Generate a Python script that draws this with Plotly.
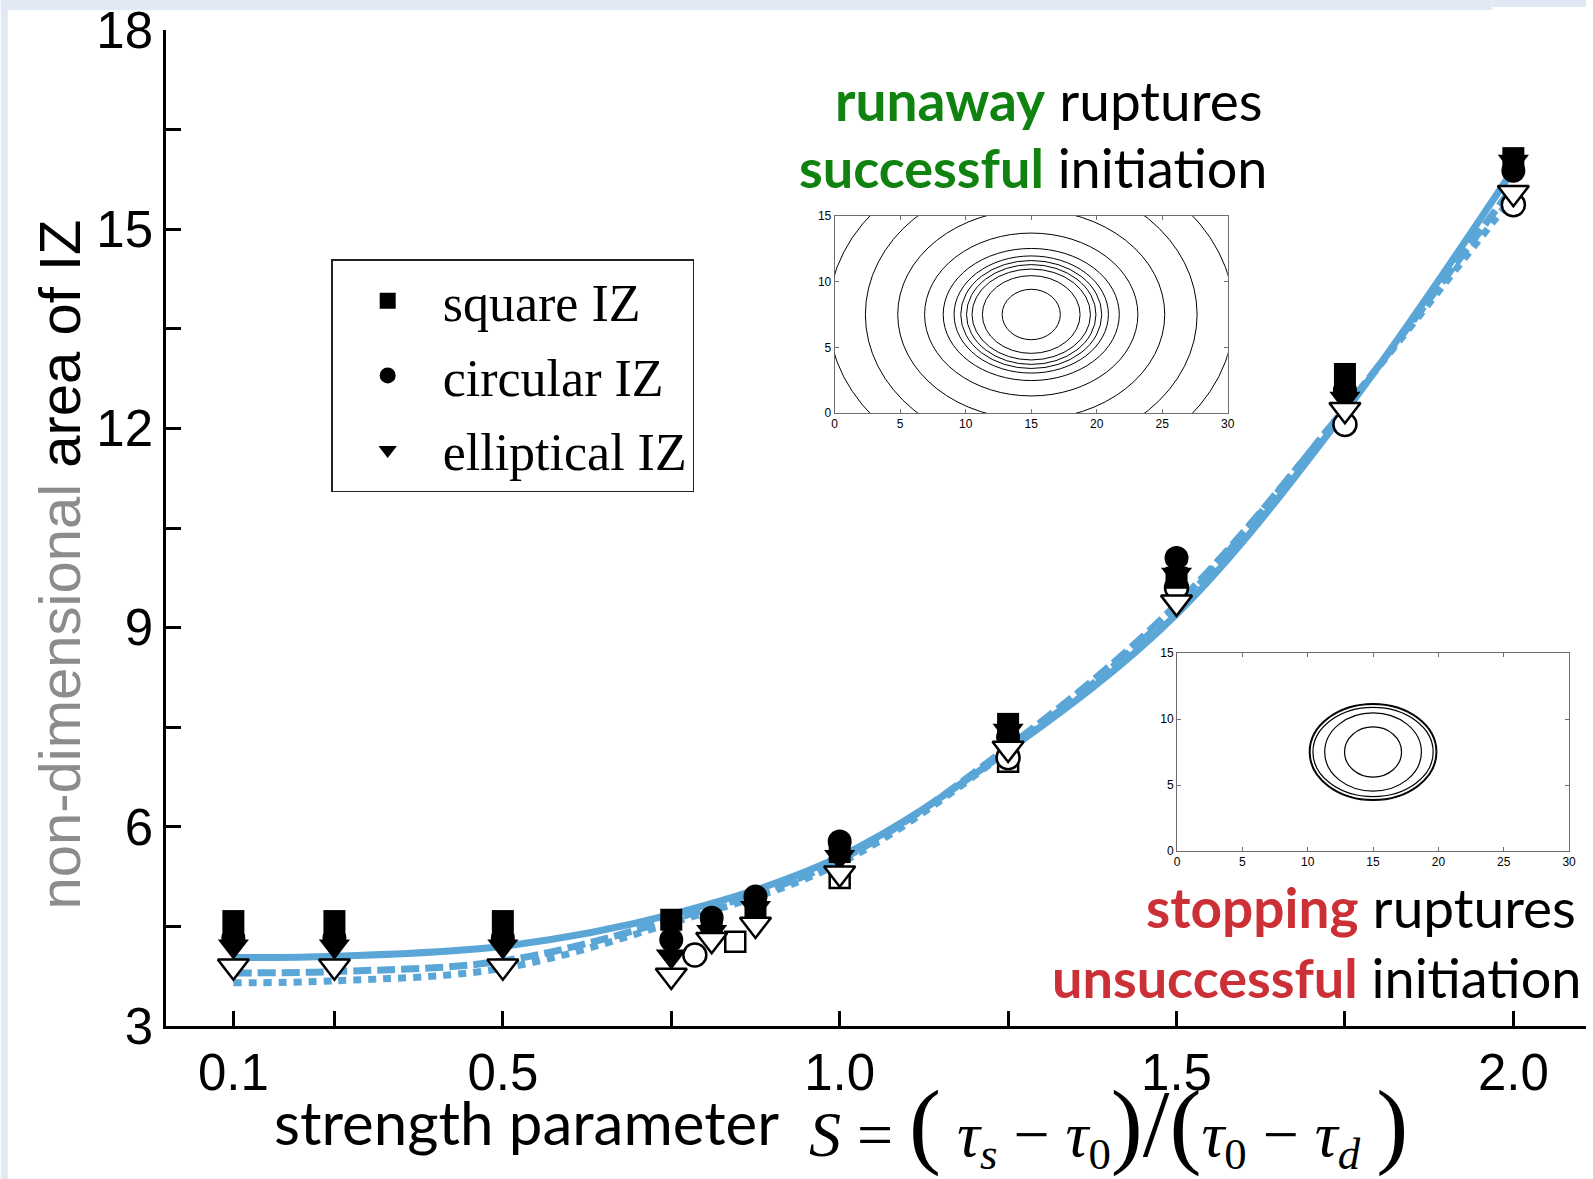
import plotly.graph_objects as go

# ---------------- canvas / plot-area geometry ----------------
W, H = 1593, 1179
ML, MR, MT, MB = 166, 0, 30, 153
PW = W - ML - MR
PH = H - MT - MB


def px(x):
    """pixel column -> paper x"""
    return (x - ML) / PW


def py(y):
    """pixel row -> paper y"""
    return (H - MB - y) / PH


# ---------------- data ----------------
# strength parameter S and non-dimensional IZ area
sq_x = [0.1, 0.25, 0.5, 0.75, 0.81, 0.875, 1.0, 1.25, 1.5, 1.75, 2.0]
sq_y = [4.58, 4.58, 4.58, 4.6, 4.46, 4.8, 5.62, 7.55, 9.75, 12.82, 16.07]

ci_x = [0.1, 0.25, 0.5, 0.75, 0.81, 0.875, 1.0, 1.25, 1.5, 1.75, 2.0]
ci_y = [4.33, 4.33, 4.33, 4.3, 4.63, 4.95, 5.78, 7.35, 10.05, 12.58, 15.88]

tr_x = [0.1, 0.25, 0.5, 0.75, 0.81, 0.875, 1.0, 1.25, 1.5, 1.75, 2.0]
tr_y = [4.2, 4.2, 4.2, 4.05, 4.42, 4.78, 5.55, 7.45, 9.8, 12.45, 16.02]

# second set of runs (open symbols)
osq_x = [0.845, 1.0, 1.25]
osq_y = [4.27, 5.23, 6.98]

oci_x = [0.785, 1.25, 1.5, 1.75, 2.0]
oci_y = [4.07, 7.04, 9.6, 12.06, 15.37]

otr_x = [0.1, 0.25, 0.5, 0.75, 0.81, 0.875, 1.0, 1.25, 1.5, 1.75, 2.0]
otr_y = [3.9, 3.9, 3.9, 3.76, 4.3, 4.53, 5.3, 7.18, 9.38, 12.28, 15.55]

# fitted curves
fit_x = [0.1, 0.25, 0.5, 0.75, 1.0, 1.25, 1.5, 1.75, 2.0]
fit_solid = [4.03, 4.05, 4.2, 4.68, 5.55, 7.15, 9.2, 12.25, 15.9]
fit_dash = [3.8, 3.82, 3.98, 4.6, 5.5, 7.2, 9.35, 12.3, 15.65]
fit_dot = [3.65, 3.68, 3.87, 4.55, 5.45, 7.15, 9.3, 12.3, 15.5]

# axis ticks
x_ticks = [0.1, 0.25, 0.5, 0.75, 1.0, 1.25, 1.5, 1.75, 2.0]
x_tick_text = ["0.1", "", "0.5", "", "1.0", "", "1.5", "", "2.0"]
y_ticks = [3, 6, 9, 12, 15, 18]

# slip-contour insets: semi-axes (along-strike a, down-dip b) of each contour
run_a = [2.22, 3.73, 4.52, 4.94, 5.38, 5.89, 6.72, 8.14, 10.19, 12.66, 15.49]
run_b = [1.92, 2.96, 3.46, 3.8, 4.11, 4.46, 5.03, 6.2, 7.99, 10.3, 12.4]
stop_a = [2.18, 3.7, 4.6, 4.82, 4.88]
stop_b = [1.9, 2.96, 3.38, 3.61, 3.66]
centre_x, centre_y = 15, 7.5
inset_x_ticks = [0, 5, 10, 15, 20, 25, 30]
inset_y_ticks = [0, 5, 10, 15]

BLUE = "#5aa6d6"
GREEN = "#0f820f"
RED = "#cc3037"
SANS = "Liberation Sans, Arial, sans-serif"
SERIF = "Liberation Serif, Times New Roman, serif"
HUMAN = "Lato, Open Sans, sans-serif"

fig = go.Figure()

# fitted curves
for yv, dash in [(fit_solid, "solid"), (fit_dash, "18px,6px"), (fit_dot, "8px,7px")]:
    fig.add_trace(go.Scatter(
        x=fit_x, y=yv, mode="lines", line=dict(color=BLUE, width=7, dash=dash, shape="spline"),
        showlegend=False, hoverinfo="skip"))

open_style = dict(color="white", line=dict(color="black", width=2.5))

fig.add_trace(go.Scatter(x=osq_x, y=osq_y, mode="markers", showlegend=False,
                         marker=dict(symbol="square", size=20, **open_style)))
fig.add_trace(go.Scatter(x=oci_x, y=oci_y, mode="markers", showlegend=False,
                         marker=dict(symbol="circle", size=23, **open_style)))
fig.add_trace(go.Scatter(x=sq_x, y=sq_y, mode="markers", name="square IZ", legendgroup="a",
                         marker=dict(symbol="square", size=22, color="black")))
fig.add_trace(go.Scatter(x=ci_x, y=ci_y, mode="markers", name="circular IZ", legendgroup="b",
                         marker=dict(symbol="circle", size=24, color="black")))
fig.add_trace(go.Scatter(x=tr_x, y=tr_y, mode="markers", name="elliptical IZ", legendgroup="c",
                         marker=dict(symbol="triangle-down", size=27, color="black")))
fig.add_trace(go.Scatter(x=otr_x, y=otr_y, mode="markers", showlegend=False,
                         marker=dict(symbol="triangle-down", size=27, **open_style)))

# contour ellipses of the two insets
shapes = []
for a, b in zip(run_a, run_b):
    shapes.append(dict(type="circle", xref="x2", yref="y2",
                       x0=centre_x - a, x1=centre_x + a, y0=centre_y - b, y1=centre_y + b,
                       line=dict(color="black", width=1)))
for a, b in zip(stop_a, stop_b):
    shapes.append(dict(type="circle", xref="x3", yref="y3",
                       x0=centre_x - a, x1=centre_x + a, y0=centre_y - b, y1=centre_y + b,
                       line=dict(color="black", width=1.2)))

# slide border bands
BAND = "#e1e9f4"
shapes += [
    dict(type="rect", xref="paper", yref="paper", x0=px(0), x1=px(1499), y0=py(0), y1=py(10),
         fillcolor=BAND, line_width=0, layer="below"),
    dict(type="rect", xref="paper", yref="paper", x0=px(1499), x1=px(W), y0=py(0), y1=py(7),
         fillcolor=BAND, line_width=0, layer="below"),
    dict(type="rect", xref="paper", yref="paper", x0=px(0), x1=px(7), y0=py(0), y1=py(H),
         fillcolor=BAND, line_width=0, layer="below"),
]

main_axis = dict(showline=True, linecolor="black", linewidth=2.5, ticks="inside",
                 ticklen=15, tickwidth=2.5, tickcolor="black", showgrid=False, zeroline=False,
                 tickfont=dict(family=SANS, size=51, color="black"))

inset_axis = dict(showline=True, mirror="ticks", linecolor="#6e6e6e", linewidth=1, ticks="inside",
                  ticklen=4, tickcolor="#6e6e6e", showgrid=False, zeroline=False,
                  tickfont=dict(family=SANS, size=12, color="black"))

BIG = "<span style='font-size:96px'>{}</span>"
math_text = ("<i>S</i> = " + BIG.format("(") + " <i>τ</i><sub><i>s</i></sub> − "
             "<i>τ</i><sub>0</sub>" + BIG.format(")/(") + "<i>τ</i><sub>0</sub> − "
             "<i>τ</i><sub><i>d</i></sub> " + BIG.format(")"))

annotations = [
    dict(text="<span style='color:#8c8c8c'>non-dimensional</span> area of IZ",
         xref="paper", yref="paper", x=px(58), y=py(565), xanchor="center", yanchor="middle",
         textangle=-90, showarrow=False, font=dict(family=SANS, size=58, color="black")),
    dict(text="strength parameter", xref="paper", yref="paper", x=px(784), y=py(1122),
         xanchor="right", yanchor="middle", showarrow=False,
         font=dict(family=HUMAN, size=60, color="black")),
    dict(text=math_text,
         xref="paper", yref="paper", x=px(810), y=py(1124), xanchor="left", yanchor="middle",
         showarrow=False, font=dict(family=SERIF, size=64, color="black")),
    dict(text=f"<b><span style='color:{GREEN}'>runaway</span></b> ruptures",
         xref="paper", yref="paper", x=px(1270), y=py(100), xanchor="right", yanchor="middle",
         showarrow=False, font=dict(family=HUMAN, size=55, color="black")),
    dict(text=f"<b><span style='color:{GREEN}'>successful</span></b> initiation",
         xref="paper", yref="paper", x=px(1274), y=py(168), xanchor="right", yanchor="middle",
         showarrow=False, font=dict(family=HUMAN, size=54, color="black")),
    dict(text=f"<b><span style='color:{RED}'>stopping</span></b> ruptures",
         xref="paper", yref="paper", x=px(1585), y=py(907), xanchor="right", yanchor="middle",
         showarrow=False, font=dict(family=HUMAN, size=55, color="black")),
    dict(text=f"<b><span style='color:{RED}'>unsuccessful</span></b> initiation",
         xref="paper", yref="paper", x=px(1590), y=py(977), xanchor="right", yanchor="middle",
         showarrow=False, font=dict(family=HUMAN, size=54, color="black")),
]

fig.update_layout(
    width=W, height=H,
    margin=dict(l=ML, r=MR, t=MT, b=MB, pad=0),
    paper_bgcolor="white", plot_bgcolor="white",
    xaxis=dict(range=[0, (W - ML) / 677.0], tickvals=x_ticks, ticktext=x_tick_text,
               ticklabelstandoff=0, **main_axis),
    yaxis=dict(range=[3, 18], tickvals=y_ticks, ticklabelstandoff=0,
               minor=dict(ticks="inside", ticklen=15, tickwidth=2.5, tickcolor="black",
                          dtick=1.5, tick0=3, showgrid=False),
               **main_axis),
    xaxis2=dict(domain=[px(838), px(1233)], anchor="y2", range=[0, 30], tickvals=inset_x_ticks,
                **inset_axis),
    yaxis2=dict(domain=[py(413), py(216)], anchor="x2", range=[0, 15], tickvals=inset_y_ticks,
                **inset_axis),
    xaxis3=dict(domain=[px(1182), px(1576)], anchor="y3", range=[0, 30], tickvals=inset_x_ticks,
                **inset_axis),
    yaxis3=dict(domain=[py(851), py(653)], anchor="x3", range=[0, 15], tickvals=inset_y_ticks,
                **inset_axis),
    legend=dict(x=px(332), y=py(259), xanchor="left", yanchor="top",
                bgcolor="white", bordercolor="#222", borderwidth=1.5,
                font=dict(family=SERIF, size=52, color="black"),
                itemsizing="trace", itemwidth=100, tracegroupgap=4),
    shapes=shapes,
    annotations=annotations,
)

# empty traces so the inset subplots are laid out
fig.add_trace(go.Scatter(x=[], y=[], xaxis="x2", yaxis="y2", showlegend=False))
fig.add_trace(go.Scatter(x=[], y=[], xaxis="x3", yaxis="y3", showlegend=False))

fig.write_html("out.html")
